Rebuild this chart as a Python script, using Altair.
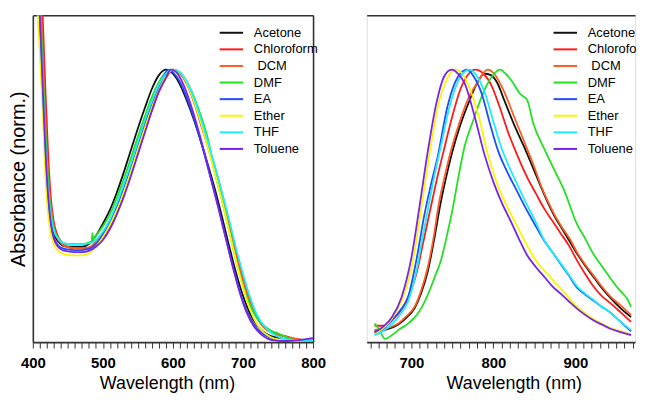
import altair as alt
import pandas as pd

SOLVENTS = ["Acetone", "Chloroform", "\u200b DCM", "DMF", "EA", "Ether", "THF", "Toluene"]
COLORS = ["#111111", "#ff1a1a", "#ff5a1f", "#22e022", "#1f4cff", "#f7f700", "#1aeeff", "#7a22e6"]

# ---------------- Absorbance (left panel) ----------------
abs_acetone_x = [407, 410, 414, 418, 422, 426, 430, 436, 442, 450, 460, 470, 480, 490, 500, 510, 520, 530, 540, 550, 560, 570, 580, 590, 600, 610, 620, 630, 640, 650, 660, 670, 680, 690, 700, 710, 720, 730, 740, 750, 760, 780, 800]
abs_acetone_y = [1.35, 1.2, 0.95, 0.72, 0.55, 0.45, 0.40, 0.37, 0.355, 0.35, 0.35, 0.35, 0.36, 0.39, 0.435, 0.485, 0.55, 0.625, 0.705, 0.785, 0.86, 0.93, 0.98, 1.0, 0.985, 0.945, 0.885, 0.815, 0.735, 0.65, 0.56, 0.46, 0.355, 0.255, 0.17, 0.105, 0.062, 0.036, 0.022, 0.015, 0.011, 0.008, 0.008]

abs_chloroform_x = [411, 414, 418, 422, 426, 430, 434, 440, 446, 455, 465, 475, 485, 490, 500, 510, 520, 530, 540, 550, 560, 570, 580, 590, 601, 610, 620, 630, 640, 650, 660, 670, 680, 690, 700, 710, 720, 730, 740, 750, 760, 770, 780, 790, 800]
abs_chloroform_y = [1.35, 1.2, 0.92, 0.68, 0.52, 0.44, 0.40, 0.37, 0.355, 0.345, 0.345, 0.345, 0.35, 0.36, 0.38, 0.42, 0.475, 0.54, 0.615, 0.695, 0.775, 0.85, 0.92, 0.97, 1.0, 0.99, 0.95, 0.89, 0.80, 0.725, 0.64, 0.545, 0.44, 0.335, 0.235, 0.15, 0.09, 0.055, 0.037, 0.028, 0.022, 0.015, 0.01, 0.008, 0.008]

abs_dcm_x = [409, 412, 416, 420, 424, 428, 432, 438, 444, 452, 462, 472, 482, 490, 500, 510, 520, 530, 540, 550, 560, 570, 580, 590, 600, 610, 620, 630, 640, 650, 660, 670, 680, 690, 700, 710, 720, 730, 740, 750, 760, 770, 780, 790, 800]
abs_dcm_y = [1.35, 1.2, 0.93, 0.70, 0.54, 0.45, 0.40, 0.37, 0.355, 0.348, 0.345, 0.345, 0.35, 0.37, 0.40, 0.445, 0.50, 0.57, 0.645, 0.725, 0.80, 0.875, 0.935, 0.98, 1.0, 0.985, 0.945, 0.88, 0.80, 0.715, 0.625, 0.53, 0.425, 0.32, 0.225, 0.145, 0.088, 0.053, 0.035, 0.026, 0.02, 0.014, 0.009, 0.008, 0.008]

abs_dmf_x = [408, 411, 415, 419, 423, 427, 431, 437, 443, 450, 460, 470, 480, 484, 485, 486, 490, 500, 510, 520, 530, 540, 550, 560, 570, 580, 590, 599, 610, 620, 630, 640, 650, 660, 670, 680, 690, 700, 710, 720, 730, 740, 750, 760, 770, 780, 790, 800]
abs_dmf_y = [1.3, 1.2, 0.95, 0.72, 0.55, 0.46, 0.41, 0.38, 0.365, 0.36, 0.36, 0.36, 0.365, 0.37, 0.40, 0.375, 0.39, 0.425, 0.47, 0.53, 0.60, 0.675, 0.755, 0.83, 0.9, 0.955, 0.99, 1.0, 0.99, 0.955, 0.90, 0.83, 0.745, 0.62, 0.52, 0.41, 0.30, 0.205, 0.135, 0.088, 0.06, 0.042, 0.032, 0.02, 0.01, 0.006, 0.005, 0.005]

abs_ea_x = [407, 410, 414, 418, 422, 426, 430, 436, 442, 450, 460, 470, 480, 490, 500, 510, 520, 530, 540, 550, 560, 570, 580, 594, 600, 610, 620, 630, 640, 650, 660, 670, 680, 690, 700, 710, 720, 730, 740, 750, 760, 770, 780, 790, 800]
abs_ea_y = [1.35, 1.2, 0.94, 0.70, 0.53, 0.43, 0.385, 0.355, 0.345, 0.34, 0.338, 0.338, 0.342, 0.36, 0.395, 0.44, 0.50, 0.57, 0.65, 0.73, 0.81, 0.88, 0.94, 1.0, 0.99, 0.955, 0.895, 0.82, 0.735, 0.64, 0.545, 0.44, 0.335, 0.235, 0.15, 0.09, 0.05, 0.028, 0.015, 0.01, 0.008, 0.007, 0.007, 0.007, 0.007]

abs_ether_x = [405, 407, 410, 414, 419, 424, 430, 436, 442, 450, 460, 470, 480, 490, 500, 510, 520, 530, 540, 550, 560, 570, 580, 590, 600, 610, 620, 630, 640, 650, 660, 670, 680, 690, 700, 710, 720, 730, 740, 750, 760, 770, 780, 790, 800]
abs_ether_y = [1.35, 1.2, 1.06, 0.85, 0.56, 0.42, 0.36, 0.335, 0.325, 0.32, 0.318, 0.318, 0.325, 0.35, 0.385, 0.43, 0.485, 0.55, 0.625, 0.705, 0.785, 0.86, 0.925, 0.975, 1.0, 0.99, 0.95, 0.885, 0.805, 0.715, 0.62, 0.52, 0.41, 0.30, 0.2, 0.12, 0.065, 0.035, 0.018, 0.01, 0.008, 0.007, 0.007, 0.007, 0.007]

abs_thf_x = [407, 410, 414, 418, 422, 426, 430, 436, 442, 450, 460, 470, 480, 490, 500, 510, 520, 530, 540, 550, 560, 570, 580, 590, 600, 610, 620, 630, 640, 650, 660, 670, 680, 690, 700, 710, 720, 730, 740, 750, 760, 770, 780, 790, 800]
abs_thf_y = [1.35, 1.2, 0.95, 0.72, 0.55, 0.46, 0.41, 0.38, 0.365, 0.36, 0.36, 0.36, 0.362, 0.375, 0.405, 0.45, 0.51, 0.58, 0.655, 0.735, 0.815, 0.885, 0.945, 0.985, 1.0, 0.99, 0.955, 0.895, 0.82, 0.735, 0.645, 0.55, 0.45, 0.345, 0.25, 0.165, 0.1, 0.06, 0.035, 0.02, 0.012, 0.008, 0.007, 0.007, 0.007]

abs_toluene_x = [407, 410, 414, 418, 422, 426, 430, 436, 442, 450, 460, 470, 480, 490, 500, 510, 520, 530, 540, 550, 560, 570, 580, 590, 597, 605, 615, 625, 635, 645, 655, 665, 675, 685, 695, 705, 715, 725, 735, 745, 755, 765, 775, 785, 795, 800]
abs_toluene_y = [1.35, 1.2, 0.94, 0.70, 0.53, 0.43, 0.38, 0.35, 0.338, 0.333, 0.33, 0.33, 0.335, 0.35, 0.375, 0.415, 0.47, 0.535, 0.61, 0.69, 0.77, 0.85, 0.92, 0.97, 1.0, 0.99, 0.945, 0.875, 0.79, 0.695, 0.59, 0.49, 0.385, 0.28, 0.185, 0.11, 0.06, 0.03, 0.013, 0.006, 0.004, 0.004, 0.006, 0.009, 0.013, 0.015]

# ---------------- Emission (right panel) ----------------
em_acetone_x = [655, 668, 684, 694, 704, 712, 720, 728, 735, 742, 750, 760, 770, 780, 789, 797, 805, 813, 825, 837, 849, 858, 866, 875, 884, 893, 902, 912, 922, 932, 942, 955, 968]
em_acetone_y = [0.04, 0.045, 0.065, 0.09, 0.125, 0.18, 0.26, 0.38, 0.5, 0.6, 0.7, 0.8, 0.88, 0.95, 0.985, 0.98, 0.95, 0.89, 0.80, 0.72, 0.635, 0.57, 0.515, 0.46, 0.415, 0.37, 0.325, 0.28, 0.24, 0.2, 0.165, 0.125, 0.092]

em_chloroform_x = [655, 668, 678, 688, 698, 706, 714, 724, 732, 740, 750, 760, 770, 778, 788, 798, 808, 818, 830, 842, 852, 862, 872, 882, 892, 902, 912, 922, 932, 942, 955, 968]
em_chloroform_y = [0.06, 0.06, 0.085, 0.12, 0.18, 0.25, 0.36, 0.5, 0.61, 0.71, 0.83, 0.93, 0.985, 1.0, 0.985, 0.94, 0.86, 0.77, 0.68, 0.6, 0.545, 0.49, 0.445, 0.40, 0.355, 0.30, 0.25, 0.205, 0.17, 0.145, 0.11, 0.074]

em_dcm_x = [655, 668, 684, 694, 704, 712, 720, 728, 733, 740, 748, 758, 768, 780, 793, 801, 813, 825, 837, 849, 858, 866, 875, 884, 893, 902, 912, 922, 932, 942, 955, 968]
em_dcm_y = [0.045, 0.05, 0.068, 0.095, 0.13, 0.19, 0.275, 0.40, 0.5, 0.6, 0.7, 0.8, 0.885, 0.95, 1.0, 0.985, 0.92, 0.83, 0.74, 0.65, 0.575, 0.52, 0.465, 0.42, 0.38, 0.33, 0.285, 0.245, 0.205, 0.17, 0.135, 0.10]

em_dmf_x = [655, 660, 668, 676, 684, 696, 708, 718, 728, 736, 744, 751, 757, 765, 775, 789, 801, 808, 815, 822, 833, 841, 849, 862, 874, 886, 902, 912, 922, 932, 942, 950, 958, 963, 968]
em_dmf_y = [0.068, 0.05, 0.012, 0.025, 0.044, 0.068, 0.105, 0.16, 0.235, 0.30, 0.40, 0.5, 0.6, 0.72, 0.81, 0.925, 0.985, 1.0, 0.985, 0.96, 0.91, 0.89, 0.80, 0.71, 0.634, 0.56, 0.433, 0.38, 0.324, 0.28, 0.238, 0.205, 0.178, 0.16, 0.13]

em_ea_x = [655, 665, 676, 686, 696, 706, 716, 724, 732, 744, 757, 768, 776, 786, 796, 806, 816, 827, 838, 849, 862, 872, 882, 892, 902, 912, 922, 932, 942, 955, 968]
em_ea_y = [0.03, 0.048, 0.08, 0.115, 0.165, 0.30, 0.47, 0.58, 0.68, 0.865, 0.975, 1.0, 0.975, 0.91, 0.80, 0.70, 0.63, 0.565, 0.5, 0.44, 0.372, 0.33, 0.287, 0.245, 0.20, 0.175, 0.153, 0.13, 0.11, 0.075, 0.04]

em_ether_x = [655, 665, 676, 688, 700, 712, 722, 732, 744, 754, 762, 770, 782, 794, 806, 818, 830, 842, 854, 866, 878, 890, 902, 912, 922, 932, 942, 955, 968]
em_ether_y = [0.03, 0.05, 0.085, 0.15, 0.27, 0.49, 0.69, 0.86, 0.97, 1.0, 0.985, 0.94, 0.83, 0.68, 0.57, 0.49, 0.42, 0.35, 0.29, 0.25, 0.21, 0.17, 0.13, 0.105, 0.085, 0.068, 0.053, 0.04, 0.028]

em_thf_x = [655, 665, 676, 686, 696, 706, 714, 721, 728, 736, 747, 760, 771, 779, 789, 799, 809, 819, 829, 840, 851, 862, 872, 882, 892, 902, 912, 922, 932, 942, 955, 968]
em_thf_y = [0.025, 0.04, 0.065, 0.10, 0.15, 0.26, 0.39, 0.5, 0.61, 0.72, 0.87, 0.975, 1.0, 0.98, 0.92, 0.82, 0.72, 0.645, 0.58, 0.51, 0.445, 0.375, 0.33, 0.29, 0.248, 0.205, 0.178, 0.155, 0.13, 0.11, 0.075, 0.044]

em_toluene_x = [655, 665, 676, 688, 700, 710, 720, 730, 740, 749, 757, 765, 777, 789, 801, 812, 821, 831, 841, 852, 862, 872, 882, 892, 902, 912, 922, 932, 942, 955, 968]
em_toluene_y = [0.035, 0.055, 0.09, 0.165, 0.31, 0.50, 0.70, 0.87, 0.975, 1.0, 0.985, 0.95, 0.83, 0.69, 0.58, 0.50, 0.445, 0.38, 0.32, 0.275, 0.24, 0.205, 0.178, 0.15, 0.123, 0.10, 0.08, 0.065, 0.05, 0.037, 0.026]

ABS = [abs_acetone_x, abs_chloroform_x, abs_dcm_x, abs_dmf_x, abs_ea_x, abs_ether_x, abs_thf_x, abs_toluene_x]
ABS_Y = [abs_acetone_y, abs_chloroform_y, abs_dcm_y, abs_dmf_y, abs_ea_y, abs_ether_y, abs_thf_y, abs_toluene_y]
EM = [em_acetone_x, em_chloroform_x, em_dcm_x, em_dmf_x, em_ea_x, em_ether_x, em_thf_x, em_toluene_x]
EM_Y = [em_acetone_y, em_chloroform_y, em_dcm_y, em_dmf_y, em_ea_y, em_ether_y, em_thf_y, em_toluene_y]


def long_df(xs_list, ys_list):
    rows = []
    for name, xs, ys in zip(SOLVENTS, xs_list, ys_list):
        for x, y in zip(xs, ys):
            rows.append({"wl": x, "val": y, "solvent": name})
    return pd.DataFrame(rows)


abs_df = long_df(ABS, ABS_Y)
em_df = long_df(EM, EM_Y)

FONT = "Liberation Sans"
FRAME = "#333333"


def legend(label_expr=None):
    kw = dict(
        orient="none", legendX=188, legendY=10.7, title=None, padding=0,
        symbolType="M-2,0H2", symbolSize=139, symbolStrokeWidth=2,
        symbolOffset=4.8, labelOffset=15.6, rowPadding=2.7,
        labelFont=FONT, labelFontSize=13, labelColor="black",
    )
    if label_expr:
        kw["labelExpr"] = label_expr
    return alt.Legend(**kw)


def x_axis(values, title_x):
    return alt.Axis(
        values=values,
        labelExpr="datum.value % 100 === 0 ? datum.label : ''",
        labelFont=FONT, labelFontWeight="bold", labelFontSize=15, labelColor="black",
        labelPadding=8, labelFlush=False, labelOverlap=False,
        tickSize=6, tickColor=FRAME, tickWidth=1,
        domainColor=FRAME, domainWidth=1.6, grid=False,
        title="Wavelength (nm)", titleFont=FONT, titleFontSize=18, titleFontWeight="normal",
        titleColor="black", titlePadding=4, titleX=title_x,
    )


def y_axis(title):
    return alt.Axis(
        labels=False, ticks=False, grid=False, domainColor=FRAME, domainWidth=1.6,
        title=title, titleFont=FONT, titleFontSize=20, titleFontWeight="normal",
        titleColor="black", titlePadding=4,
    )


frame_axis = dict(labels=False, ticks=False, grid=False, title=None,
                  domainColor=FRAME, domainWidth=1.6)

# ---- left panel ----
abs_xs = alt.Scale(domain=[400, 800], nice=False, zero=False)
abs_ys = alt.Scale(domain=[0, 1.2], nice=False, zero=False)
abs_base = alt.Chart(abs_df)
abs_lines = abs_base.mark_line(clip=True, strokeWidth=1.8, interpolate="monotone").encode(
    x=alt.X("wl:Q", scale=abs_xs, axis=x_axis(list(range(400, 801, 10)), 135)),
    y=alt.Y("val:Q", scale=abs_ys, axis=y_axis("Absorbance (norm.)")),
    color=alt.Color("solvent:N", scale=alt.Scale(domain=SOLVENTS, range=COLORS), legend=legend()),
)
abs_frame = abs_base.mark_line(clip=True, opacity=0).encode(
    x=alt.X("wl:Q", scale=abs_xs, axis=alt.Axis(orient="top", **frame_axis)),
    y=alt.Y("val:Q", scale=abs_ys, axis=alt.Axis(orient="right", **frame_axis)),
    detail="solvent:N",
)
left = alt.layer(abs_lines, abs_frame).resolve_axis(x="independent", y="independent").properties(
    width=282, height=329)

# ---- right panel (its right edge is cut by the picture edge) ----
em_xs = alt.Scale(domain=[645.5, 972.8], nice=False, zero=False)
em_ys = alt.Scale(domain=[0, 1.2], nice=False, zero=False)
em_base = alt.Chart(em_df)
em_lines = em_base.mark_line(clip=True, strokeWidth=1.8, interpolate="monotone").encode(
    x=alt.X("wl:Q", scale=em_xs, axis=x_axis(list(range(650, 971, 10)), 148)),
    y=alt.Y("val:Q", scale=em_ys, axis=y_axis("Emission (norm.)")),
    color=alt.Color("solvent:N", scale=alt.Scale(domain=SOLVENTS, range=COLORS),
                    legend=legend("substring(datum.label, 0, 8)")),
)
em_frame = em_base.mark_line(clip=True, opacity=0).encode(
    x=alt.X("wl:Q", scale=em_xs, axis=alt.Axis(orient="top", **frame_axis)),
    y=alt.Y("val:Q", scale=em_ys, axis=None),
    detail="solvent:N",
)
right = alt.layer(em_lines, em_frame).resolve_axis(x="independent").properties(
    width=270, height=329)

chart = (
    alt.hconcat(left, right, spacing=39)
    .resolve_scale(color="independent")
    .resolve_legend(color="independent")
    .properties(padding={"left": 0, "top": 5, "right": 0, "bottom": 0})
    .configure_view(stroke=None)
    .configure(font=FONT)
)

chart.save("out.html", embed_options={"renderer": "svg", "actions": False})
